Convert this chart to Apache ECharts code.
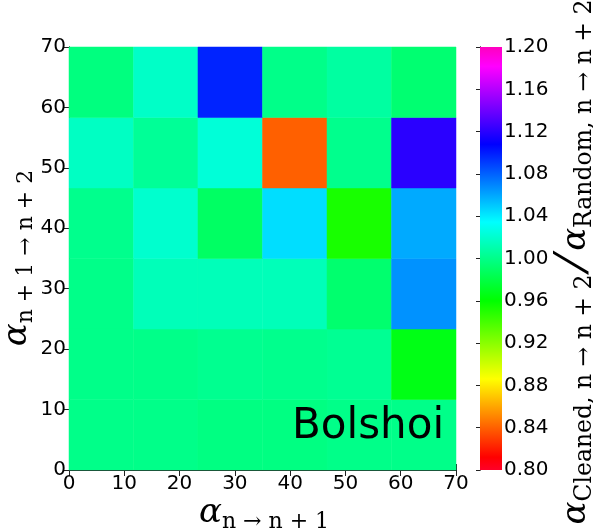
<!DOCTYPE html>
<html>
<head>
<meta charset="utf-8">
<script src="https://cdn.jsdelivr.net/npm/echarts@6/dist/echarts.min.js"></script>
<style>html,body{margin:0;padding:0;background:#fff}#c{width:593px;height:531px}</style>
</head>
<body>
<div id="c"></div>
<script>
// ---- data ----
const binEdges = [0, 11.67, 23.33, 35, 46.67, 58.33, 70];
// rows from bottom (y bin 0) to top (y bin 5); each row lists columns x bin 0..5
const row0 = [1.000, 1.000, 0.998, 0.998, 1.000, 1.000];
const row1 = [1.000, 1.000, 1.002, 1.001, 1.003, 0.966];
const row2 = [1.000, 1.014, 1.014, 1.014, 0.992, 1.066];
const row3 = [1.001, 1.020, 0.989, 1.044, 0.953, 1.059];
const row4 = [1.017, 1.004, 1.023, 0.840, 1.001, 1.120];
const row5 = [0.997, 1.018, 1.098, 1.000, 1.007, 0.993];
const rows = [row0, row1, row2, row3, row4, row5];
const cbarMin = 0.80, cbarMax = 1.20, cbarStep = 0.04;
const labelText = 'Bolshoi';

// ---- gist_rainbow colormap ----
const CM = {
  r: [[0,1],[0.03,1],[0.215,1],[0.4,0],[0.586,0],[0.77,0],[0.954,1],[1,1]],
  g: [[0,0],[0.03,0],[0.215,1],[0.4,1],[0.586,1],[0.77,0],[0.954,0],[1,0]],
  b: [[0,0.16],[0.03,0],[0.215,0],[0.4,0],[0.586,1],[0.77,1],[0.954,1],[1,0.75]]
};
function interp(seg, t) {
  for (let i = 1; i < seg.length; i++) {
    if (t <= seg[i][0]) {
      const a = seg[i-1], b = seg[i];
      return a[1] + (b[1]-a[1]) * (t - a[0]) / (b[0] - a[0]);
    }
  }
  return seg[seg.length-1][1];
}
function cmap(t) {
  t = Math.max(0, Math.min(1, t));
  const r = Math.round(interp(CM.r, t)*255), g = Math.round(interp(CM.g, t)*255), b = Math.round(interp(CM.b, t)*255);
  return 'rgb(' + r + ',' + g + ',' + b + ')';
}
function colorOf(v) { return cmap((v - cbarMin) / (cbarMax - cbarMin)); }

const cells = [];
rows.forEach((row, j) => row.forEach((v, i) => {
  cells.push([binEdges[i], binEdges[i+1], binEdges[j], binEdges[j+1], v]);
}));
const stopPos = [0, 0.03, 0.215, 0.4, 0.586, 0.77, 0.954, 1];

const chart = echarts.init(document.getElementById('c'), null, {renderer: 'canvas'});
const tickFont = {fontFamily: 'DejaVu Sans', fontSize: 20, color: '#000'};
const lineCol = '#222';
const baseAxis = {
  type: 'value', min: 0, max: 70, interval: 10,
  axisLine: {show: true, lineStyle: {color: lineCol, width: 1}},
  axisTick: {show: true, inside: true, length: 6, lineStyle: {color: lineCol}},
  splitLine: {show: false}
};
const serif = 'DejaVu Serif';
const rich = {
  a: {fontFamily: serif, fontStyle: 'italic', fontSize: 34, color: '#000', lineHeight: 42, verticalAlign: 'middle'},
  s: {fontFamily: serif, fontSize: 22, color: '#000', lineHeight: 42, verticalAlign: 'middle', padding: [18, 0, 0, 0]},
  s2: {fontFamily: serif, fontSize: 23.5, color: '#000', lineHeight: 42, verticalAlign: 'middle', padding: [18, 0, 0, 0]},
  sl: {fontFamily: serif, fontSize: 46, color: '#000', lineHeight: 42, verticalAlign: 'middle', padding: [0, 8, 0, 8]}
};

chart.setOption({
  animation: false,
  grid: [
    {left: 69, top: 47, width: 387, height: 423},
    {left: 480, top: 47, width: 22, height: 423}
  ],
  xAxis: [
    Object.assign({}, baseAxis, {gridIndex: 0, position: 'bottom', axisLabel: Object.assign({margin: 4}, tickFont)}),
    Object.assign({}, baseAxis, {gridIndex: 0, position: 'top', axisLabel: {show: false}}),
    {type: 'value', gridIndex: 1, min: 0, max: 1, show: false}
  ],
  yAxis: [
    Object.assign({}, baseAxis, {gridIndex: 0, position: 'left', axisLabel: Object.assign({margin: 3}, tickFont)}),
    Object.assign({}, baseAxis, {gridIndex: 0, position: 'right', axisLabel: {show: false}}),
    {type: 'value', gridIndex: 1, min: cbarMin, max: cbarMax, interval: cbarStep, position: 'right',
     axisLine: {show: true, lineStyle: {color: lineCol}},
     axisTick: {show: true, inside: true, length: 4, lineStyle: {color: lineCol}},
     splitLine: {show: false},
     axisLabel: Object.assign({margin: 2, formatter: v => v.toFixed(2)}, tickFont)},
    {type: 'value', gridIndex: 1, min: cbarMin, max: cbarMax, position: 'left',
     axisLine: {show: true, lineStyle: {color: lineCol}}, axisTick: {show: false}, axisLabel: {show: false}, splitLine: {show: false}}
  ],
  series: [
    {
      type: 'custom', xAxisIndex: 0, yAxisIndex: 0, data: cells, z: 1,
      renderItem: function (params, api) {
        const p0 = api.coord([api.value(0), api.value(2)]);
        const p1 = api.coord([api.value(1), api.value(3)]);
        return {
          type: 'rect',
          shape: {x: p0[0], y: p1[1], width: p1[0] - p0[0], height: p0[1] - p1[1]},
          style: {fill: colorOf(api.value(4)), stroke: colorOf(api.value(4)), lineWidth: 0.5}
        };
      }
    },
    {
      type: 'custom', xAxisIndex: 2, yAxisIndex: 2, data: [[0, 1, cbarMin, cbarMax]], z: 1,
      renderItem: function (params, api) {
        const p0 = api.coord([api.value(0), api.value(2)]);
        const p1 = api.coord([api.value(1), api.value(3)]);
        return {
          type: 'rect',
          shape: {x: p0[0], y: p1[1], width: p1[0] - p0[0], height: p0[1] - p1[1]},
          style: {fill: new echarts.graphic.LinearGradient(0, 1, 0, 0,
            stopPos.map(s => ({offset: s, color: cmap(s)})))}
        };
      }
    }
  ],
  graphic: [
    {type: 'text', left: 292, top: 406, z: 10,
     style: {text: labelText, font: '42px "DejaVu Sans"', fill: '#000'}},
    {type: 'text', x: 264, y: 513, z: 10,
     style: {text: '{a|α}{s|n → n + 1}', rich: rich, align: 'center', verticalAlign: 'middle'}},
    {type: 'text', x: 17, y: 258, rotation: Math.PI / 2, z: 10,
     style: {text: '{a|α}{s|n + 1 → n + 2}', rich: rich, align: 'center', verticalAlign: 'middle'}},
    {type: 'text', x: 576, y: 262, rotation: Math.PI / 2, z: 10,
     style: {text: '{a|α}{s2|Cleaned, n → n + 2}{sl|⁄}{a|α}{s2|Random, n → n + 2}', rich: rich, align: 'center', verticalAlign: 'middle'}}
  ]
});
</script>
</body>
</html>
